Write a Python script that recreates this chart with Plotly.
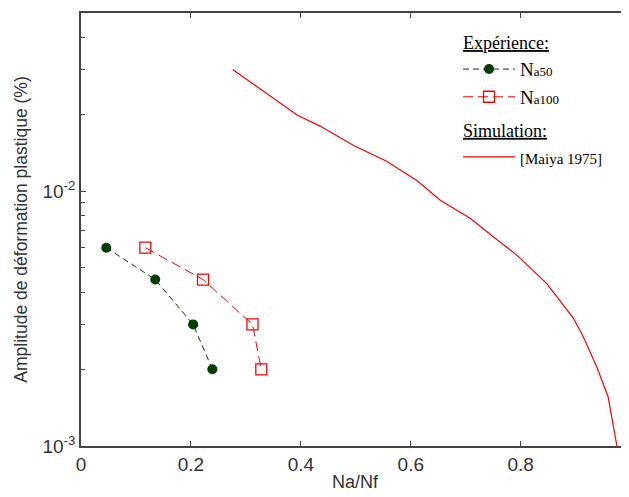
import plotly.graph_objects as go

# Experimental data
na50_x = [0.046, 0.135, 0.204, 0.239]
na50_y = [0.0060, 0.0045, 0.0030, 0.0020]
na100_x = [0.117, 0.222, 0.312, 0.328]
na100_y = [0.0060, 0.0045, 0.0030, 0.0020]

# Simulation [Maiya 1975]
sim_x = [0.276, 0.314, 0.344, 0.393, 0.435, 0.496, 0.556, 0.611, 0.653, 0.708,
         0.750, 0.793, 0.847, 0.896, 0.914, 0.938, 0.959, 0.965, 0.975]
sim_y = [0.0300, 0.0262, 0.0236, 0.0199, 0.0180, 0.0151, 0.0131, 0.0110, 0.00923, 0.00782,
         0.00662, 0.00561, 0.00435, 0.00317, 0.00268, 0.00205, 0.00156, 0.00130, 0.00100]

x_ticks = [0, 0.2, 0.4, 0.6, 0.8, 1.0]
x_ticktext = ["0", "0.2", "0.4", "0.6", "0.8", "1"]
y_ticks = [0.001, 0.01]
y_ticktext = ["10<sup>-3</sup>", "10<sup>-2</sup>"]
y_minor = [k * 0.001 for k in range(2, 10)] + [k * 0.01 for k in range(2, 6)]

green = "#003d00"
red = "#ff0000"
serif = "Liberation Serif"
sans = "Liberation Sans"

fig = go.Figure()
fig.add_trace(go.Scatter(
    x=na50_x, y=na50_y, mode="lines+markers",
    name="N<span style='font-size:13px'>a50</span>",
    line=dict(color=green, width=1, dash="6px,4px"),
    marker=dict(symbol="circle", size=10, color=green),
    legendgroup="exp",
    legendgrouptitle=dict(text="<u>Expérience:</u>",
                          font=dict(family=serif, size=18, color="#000")),
))
fig.add_trace(go.Scatter(
    x=na100_x, y=na100_y, mode="lines+markers",
    name="N<span style='font-size:13px'>a100</span>",
    line=dict(color=red, width=1, dash="10px,5px"),
    marker=dict(symbol="square-open", size=11, color=red, line=dict(width=1.3)),
    legendgroup="exp",
))
fig.add_trace(go.Scatter(
    x=sim_x, y=sim_y, mode="lines",
    name="<span style='font-size:15px'>[Maiya 1975]</span>",
    line=dict(color=red, width=1.2),
    legendgroup="sim",
    legendgrouptitle=dict(text="<u>Simulation:</u>",
                          font=dict(family=serif, size=18, color="#000")),
))

axis_common = dict(
    showline=True, linecolor="#444", linewidth=1.5, mirror="ticks",
    ticks="inside", tickcolor="#444", ticklen=5, tickwidth=1.2,
    showgrid=False, zeroline=False, automargin=False,
    tickfont=dict(family=sans, size=19, color="#333"),
)

# The page body has an 8px margin, so the figure is sized/offset to compensate.
fig.update_layout(
    width=621, height=489,
    margin=dict(l=73, r=0, t=5, b=51),
    plot_bgcolor="white", paper_bgcolor="white",
    xaxis=dict(
        range=[0, 0.997], tickvals=x_ticks, ticktext=x_ticktext,
        title=dict(text="Na/Nf", font=dict(family=sans, size=18, color="#333"), standoff=2),
        **axis_common,
    ),
    yaxis=dict(
        type="log", range=[-3, -1.301],
        tickvals=y_ticks, ticktext=y_ticktext,
        minor=dict(tickvals=y_minor, ticks="inside", ticklen=4, tickcolor="#444", tickwidth=1.2),
        title=dict(text="Amplitude de déformation plastique (%)",
                   font=dict(family=sans, size=17.5, color="#333"), standoff=10),
        **axis_common,
    ),
    legend=dict(
        x=0.688, y=0.975, xanchor="left", yanchor="top",
        bgcolor="rgba(0,0,0,0)", borderwidth=0,
        font=dict(family=serif, size=19, color="#000"),
        tracegroupgap=6, itemwidth=52,
    ),
    showlegend=True,
)

fig.write_html("out.html")
